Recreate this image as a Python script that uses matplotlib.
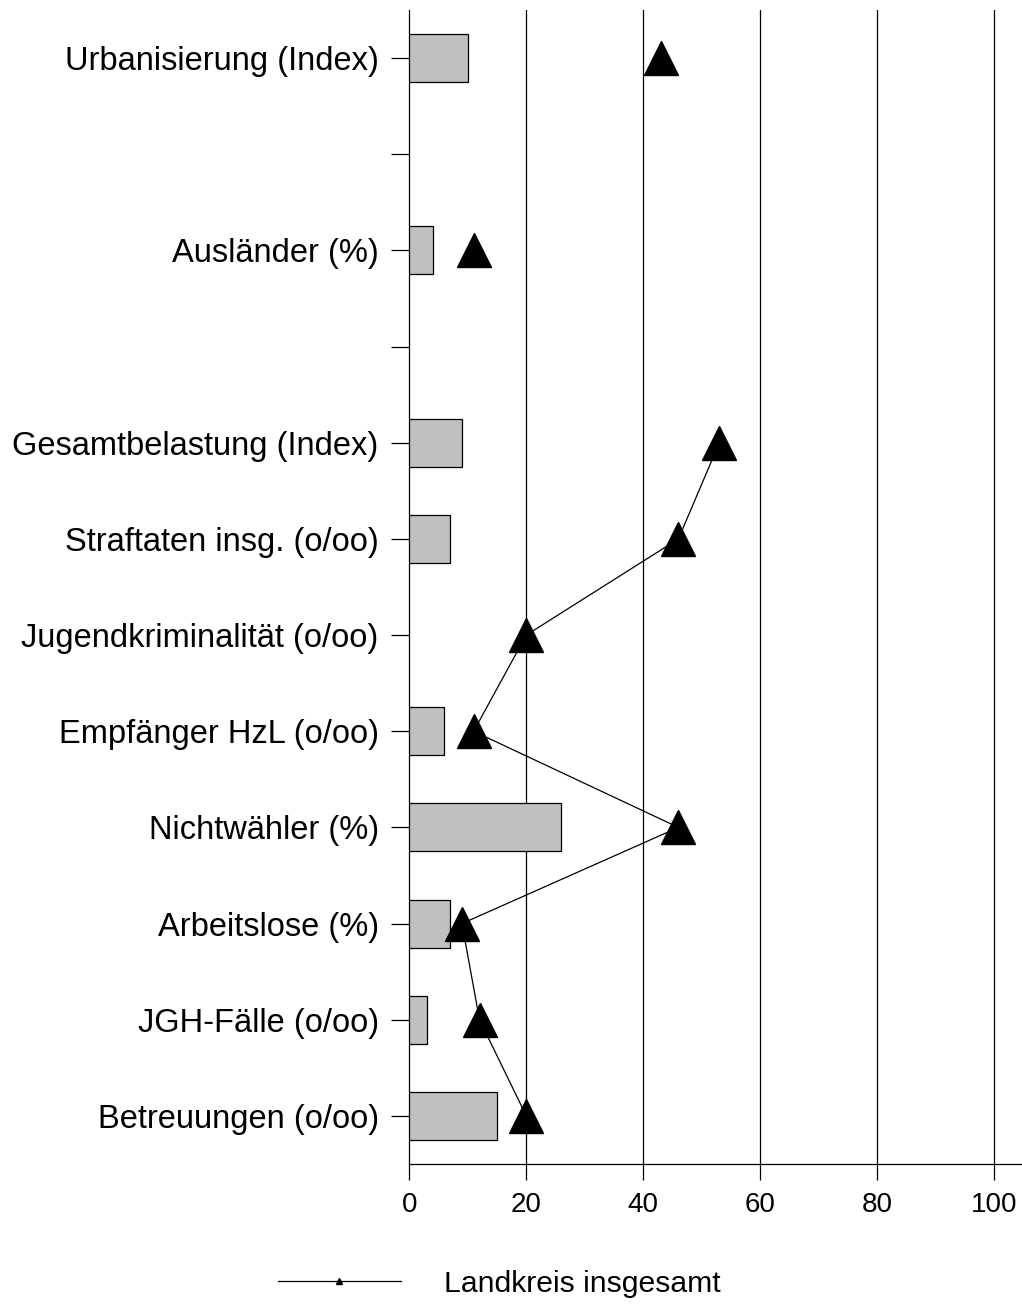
import numpy as np
import matplotlib
matplotlib.use("Agg")
import matplotlib.pyplot as plt
from matplotlib.lines import Line2D

plt.rcParams['font.family'] = ['Liberation Sans', 'DejaVu Sans']

categories = ["Urbanisierung (Index)", "", "Ausländer (%)", "",
              "Gesamtbelastung (Index)", "Straftaten insg. (o/oo)",
              "Jugendkriminalität (o/oo)", "Empfänger HzL (o/oo)",
              "Nichtwähler (%)", "Arbeitslose (%)", "JGH-Fälle (o/oo)",
              "Betreuungen (o/oo)"]
bar_values = [10, np.nan, 4, np.nan, 9, 7, np.nan, 6, 26, 7, 3, 15]
kreis_values = [43, np.nan, 11, np.nan, 53, 46, 20, 11, 46, 9, 12, 20]
connected = [False, False, False, False, True, True, True, True, True, True, True, True]
xticks = [0, 20, 40, 60, 80, 100]
legend_label = "Landkreis insgesamt"

W, H = 1022, 1306
fig = plt.figure(figsize=(W / 100, H / 100), dpi=100)
ax = fig.add_axes([409.3 / W, 1 - 1164 / H, 1 - 409.3 / W, (1164 - 10) / H])

y = np.arange(len(categories))
bv = np.array(bar_values, dtype=float)
mask = ~np.isnan(bv)
ax.barh(y[mask], bv[mask], height=0.5, color='#c0c0c0', edgecolor='black',
        linewidth=0.9, zorder=3)

kv = np.array(kreis_values, dtype=float)
conn = np.array(connected)
ax.plot(kv[conn], y[conn], color='black', linewidth=0.9, zorder=4)
km = ~np.isnan(kv)
ax.plot(kv[km], y[km], linestyle='none', marker='^', markersize=24,
        color='black', zorder=5)

for xv in xticks[1:]:
    ax.axvline(xv, color='black', linewidth=0.9, zorder=1)

ax.set_xlim(0, (W - 409.3) / 5.85)
ax.set_ylim(len(categories) - 0.5, -0.5)
ax.set_yticks(y)
ax.set_yticklabels(categories, fontsize=23.5)
ax.set_xticks(xticks)
ax.set_xticklabels([str(v) for v in xticks], fontsize=20)
ax.tick_params(axis='y', length=13, width=0.9, pad=9)
ax.tick_params(axis='x', length=11.5, width=0.9, pad=9)
for s in ['top', 'right']:
    ax.spines[s].set_visible(False)
for s in ['left', 'bottom']:
    ax.spines[s].set_linewidth(0.9)

handle = Line2D([], [], color='black', linewidth=0.9, marker='^', markersize=4)
fig.legend([handle], [legend_label], loc='center',
           bbox_to_anchor=(499 / W, 1 - 1284 / H), frameon=False,
           fontsize=21.7, handlelength=4.08, handletextpad=1.43)

fig.savefig("out.png", dpi=100)
